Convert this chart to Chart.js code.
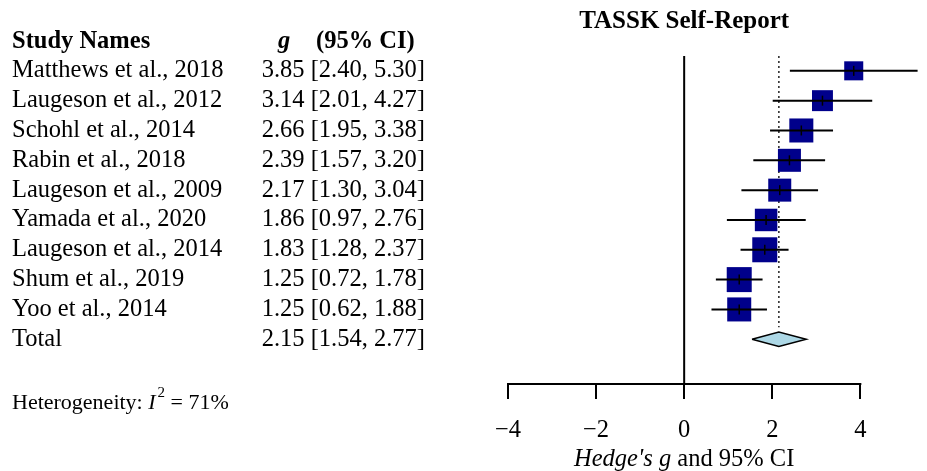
<!DOCTYPE html>
<html>
<head>
<meta charset="utf-8">
<script src="https://cdn.jsdelivr.net/npm/chart.js@4.4.0/dist/chart.umd.min.js"></script>
<style>
  html, body { margin: 0; padding: 0; background: #fff; }
</style>
</head>
<body>
<canvas id="forest" width="927" height="471"></canvas>
<script>
// --- data ---
var studies = ["Matthews et al., 2018", "Laugeson et al., 2012", "Schohl et al., 2014",
               "Rabin et al., 2018", "Laugeson et al., 2009", "Yamada et al., 2020",
               "Laugeson et al., 2014", "Shum et al., 2019", "Yoo et al., 2014"];
var hedgesG = [3.85, 3.14, 2.66, 2.39, 2.17, 1.86, 1.83, 1.25, 1.25];
var ciLow   = [2.40, 2.01, 1.95, 1.57, 1.30, 0.97, 1.28, 0.72, 0.62];
var ciHigh  = [5.30, 4.27, 3.38, 3.20, 3.04, 2.76, 2.37, 1.78, 1.88];
var weights = [7.6, 9.2, 12.1, 11.1, 11.1, 10.6, 13.1, 13.1, 12.1];
var totalLabel = "Total";
var totalG = 2.15, totalLow = 1.54, totalHigh = 2.77;
var xTicks = [-4, -2, 0, 2, 4];
var i2 = 71;
var plotTitle = "TASSK Self-Report";

var serif = "'Liberation Serif', 'Times New Roman', serif";
var fs = '24.5px ';
var totalRow = studies.length + 1;

// CI segments as one line broken by null points
var ciData = [];
for (var i = 0; i < studies.length; i++) {
  ciData.push({x: ciLow[i], y: i + 1});
  ciData.push({x: ciHigh[i], y: i + 1});
  ciData.push({x: ciHigh[i], y: null});
}
var points = hedgesG.map(function(v, i) { return {x: v, y: i + 1}; });
var diamond = [
  {x: totalLow, y: totalRow}, {x: totalG, y: totalRow - 0.24},
  {x: totalHigh, y: totalRow}, {x: totalG, y: totalRow + 0.24},
  {x: totalLow, y: totalRow}
];

function fmt(v) { return v.toFixed(2); }

var textPlugin = {
  id: 'forestText',
  afterDraw: function(chart) {
    var ctx = chart.ctx, xs = chart.scales.x, ys = chart.scales.y;
    var area = chart.chartArea;
    ctx.save();
    // x axis line, only over the tick range
    ctx.strokeStyle = '#000';
    ctx.lineWidth = 2;
    ctx.beginPath();
    ctx.moveTo(xs.getPixelForValue(xTicks[0]) - 1, area.bottom);
    ctx.lineTo(xs.getPixelForValue(xTicks[xTicks.length - 1]) + 1, area.bottom);
    ctx.stroke();

    ctx.fillStyle = '#000';
    ctx.textBaseline = 'middle';

    // title
    ctx.textAlign = 'center';
    ctx.font = 'bold 25px ' + serif;
    ctx.fillText(plotTitle, xs.getPixelForValue(0), 22);

    // header
    var yh = ys.getPixelForValue(0) + 1;
    ctx.textAlign = 'left';
    ctx.font = 'bold ' + fs + serif;
    ctx.fillText('Study Names', 12, yh);
    ctx.font = 'italic bold ' + fs + serif;
    ctx.fillText('g', 278, yh);
    ctx.font = 'bold ' + fs + serif;
    ctx.fillText('(95% CI)', 316, yh);

    // rows
    ctx.font = fs + serif;
    for (var i = 0; i < studies.length; i++) {
      var y = ys.getPixelForValue(i + 1);
      ctx.textAlign = 'left';
      ctx.fillText(studies[i], 12, y);
      ctx.textAlign = 'right';
      ctx.fillText(fmt(hedgesG[i]) + ' [' + fmt(ciLow[i]) + ', ' + fmt(ciHigh[i]) + ']', 425, y);
    }
    var yt = ys.getPixelForValue(totalRow);
    ctx.textAlign = 'left';
    ctx.fillText(totalLabel, 12, yt);
    ctx.textAlign = 'right';
    ctx.fillText(fmt(totalG) + ' [' + fmt(totalLow) + ', ' + fmt(totalHigh) + ']', 425, yt);

    // heterogeneity: I^2 with a raised 2
    var yhet = ys.getPixelForValue(totalRow + 2.15);
    ctx.textAlign = 'left';
    var xx = 12;
    ctx.font = '22px ' + serif;
    ctx.fillText('Heterogeneity: ', xx, yhet);
    xx += ctx.measureText('Heterogeneity: ').width;
    ctx.font = 'italic 22px ' + serif;
    ctx.fillText('I', xx, yhet);
    xx += ctx.measureText('I').width + 2;
    ctx.font = '15px ' + serif;
    ctx.fillText('2', xx, yhet - 10);
    xx += ctx.measureText('2').width;
    ctx.font = '22px ' + serif;
    ctx.fillText(' = ' + i2 + '%', xx, yhet);

    // x axis title: "Hedge's g" italic, rest upright
    var a = "Hedge's g", b = ' and 95% CI';
    ctx.font = 'italic ' + fs + serif;
    var wa = ctx.measureText(a).width;
    ctx.font = fs + serif;
    var wb = ctx.measureText(b).width;
    var x0 = xs.getPixelForValue(0) - (wa + wb) / 2;
    ctx.font = 'italic ' + fs + serif;
    ctx.fillText(a, x0, 460);
    ctx.font = fs + serif;
    ctx.fillText(b, x0 + wa, 460);
    ctx.restore();
  }
};

new Chart(document.getElementById('forest'), {
  type: 'scatter',
  data: {
    datasets: [
      { // estimate marks inside the boxes
        data: points, pointStyle: 'line', rotation: 90, pointRadius: 5,
        borderColor: '#000', borderWidth: 1.5, order: 0, clip: false
      },
      {
        type: 'line', data: ciData, borderColor: '#000', borderWidth: 2,
        pointRadius: 0, spanGaps: false, order: 1, clip: false
      },
      {
        data: points, pointStyle: 'rect',
        pointRadius: function(c) { return 6.907 * Math.sqrt(weights[c.dataIndex]) / Math.SQRT2; },
        backgroundColor: '#00008B', borderColor: '#00008B', borderWidth: 0, order: 2, clip: false
      },
      {
        type: 'line', data: diamond, fill: 'shape', backgroundColor: '#ADD8E6',
        borderColor: '#000', borderWidth: 1.5, pointRadius: 0, order: 3, clip: false
      },
      {
        type: 'line', data: [{x: 0, y: 0.5}, {x: 0, y: 11.5}],
        borderColor: '#000', borderWidth: 2, pointRadius: 0, order: 4, clip: false
      },
      {
        type: 'line', data: [{x: totalG, y: 0.5}, {x: totalG, y: 9.6}],
        borderColor: '#222', borderWidth: 1.5, borderDash: [2, 3], pointRadius: 0, order: 5, clip: false
      }
    ]
  },
  options: {
    responsive: false,
    animation: false,
    layout: { autoPadding: false, padding: { left: 508, right: 5, top: 41, bottom: 0 } },
    plugins: { legend: { display: false }, tooltip: { enabled: false } },
    scales: {
      x: {
        type: 'linear', min: -4, max: 5.4, position: 'bottom',
        afterBuildTicks: function(s) { s.ticks = xTicks.map(function(v) { return {value: v}; }); },
        afterFit: function(s) { s.height = 87; s.paddingLeft = 0; s.paddingRight = 0; },
        border: { display: false },
        grid: { drawOnChartArea: false, drawTicks: true, tickLength: 15, color: '#000', lineWidth: 2 },
        ticks: {
          color: '#000', padding: 17, maxRotation: 0, autoSkip: false,
          font: { family: serif, size: 24.5 },
          callback: function(v) { return String(v).replace('-', '\u2212'); }
        }
      },
      y: { type: 'linear', min: 0, max: 11.5, reverse: true, display: false }
    }
  },
  plugins: [textPlugin]
});
</script>
</body>
</html>
